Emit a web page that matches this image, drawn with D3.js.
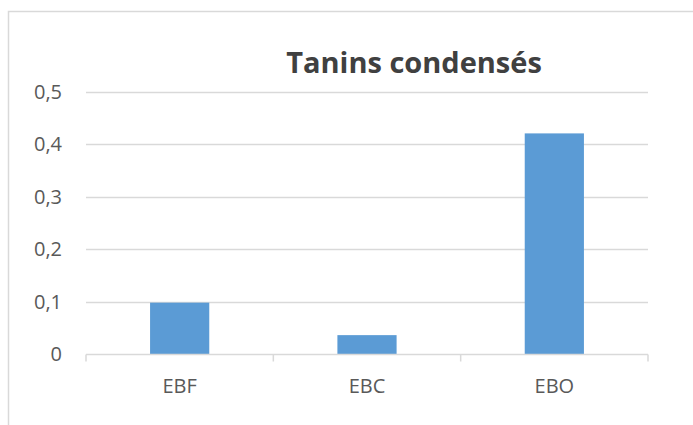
<!DOCTYPE html>
<html>
<head>
<meta charset="utf-8">
<script src="https://cdn.jsdelivr.net/npm/d3@7"></script>
<style>
  body { margin: 0; background: #fff; }
  svg { display: block; font-family: "Open Sans", sans-serif; }
</style>
</head>
<body>
<div id="chart"></div>
<script>
// data
var categories = ["EBF", "EBC", "EBO"];
var values = [0.098, 0.036, 0.421];
var yTicks = [0, 0.1, 0.2, 0.3, 0.4, 0.5];
var title = "Tanins condensés";

var width = 693, height = 425;
var plotLeft = 86, plotRight = 648, plotTop = 92, plotBottom = 354;

var svg = d3.select("#chart").append("svg")
  .attr("width", width)
  .attr("height", height);

/* chart frame, runs off the picture to the right and bottom */
svg.append("rect")
  .attr("x", 8.5).attr("y", 11.5)
  .attr("width", 800).attr("height", 600)
  .attr("fill", "#fff")
  .attr("stroke", "#d9d9d9")
  .attr("stroke-width", 1.5);

var x = d3.scaleBand()
  .domain(categories)
  .range([plotLeft, plotRight])
  .paddingInner(0.684)
  .paddingOuter(0.342);

var y = d3.scaleLinear()
  .domain([0, 0.5])
  .range([plotBottom, plotTop]);

var fmt = d => d3.format(".1~f")(d).replace(".", ",");

/* grid lines */
svg.append("g")
  .selectAll("line")
  .data(yTicks.filter(d => d > 0))
  .enter().append("line")
  .attr("x1", plotLeft).attr("x2", plotRight)
  .attr("y1", d => Math.round(y(d)) + 0.5)
  .attr("y2", d => Math.round(y(d)) + 0.5)
  .attr("stroke", "#d9d9d9")
  .attr("stroke-width", 1.3);

/* bars */
svg.append("g")
  .selectAll("rect")
  .data(values)
  .enter().append("rect")
  .attr("x", (d, i) => x(categories[i]))
  .attr("width", x.bandwidth())
  .attr("y", d => y(d))
  .attr("height", d => y(0) - y(d))
  .attr("fill", "#5b9bd5");

/* x axis: line plus ticks between categories */
var xAxis = d3.axisBottom(x).tickSize(0).tickPadding(24);
var gx = svg.append("g")
  .attr("transform", `translate(0, ${Math.round(y(0)) + 0.5})`)
  .call(xAxis);
gx.select(".domain").remove();
gx.selectAll("text")
  .attr("fill", "#595959")
  .attr("font-size", "20px")
  .attr("font-family", "'Open Sans', sans-serif");

var step = x.step();
var bounds = d3.range(categories.length + 1).map(i => plotLeft + i * step);
gx.append("line")
  .attr("x1", plotLeft).attr("x2", plotRight)
  .attr("y1", 0).attr("y2", 0)
  .attr("stroke", "#d9d9d9").attr("stroke-width", 1.5);
gx.selectAll(".sep")
  .data(bounds)
  .enter().append("line")
  .attr("class", "sep")
  .attr("x1", d => d).attr("x2", d => d)
  .attr("y1", 0).attr("y2", 7)
  .attr("stroke", "#d9d9d9").attr("stroke-width", 1.5);

/* y axis labels */
var yAxis = d3.axisLeft(y).tickValues(yTicks).tickFormat(fmt).tickSize(0).tickPadding(24);
var gy = svg.append("g")
  .attr("transform", `translate(${plotLeft}, 0)`)
  .call(yAxis);
gy.select(".domain").remove();
gy.selectAll("text")
  .attr("fill", "#595959")
  .attr("font-size", "20px")
  .attr("font-family", "'Open Sans', sans-serif");

/* title */
svg.append("text")
  .attr("x", 414)
  .attr("y", 73)
  .attr("text-anchor", "middle")
  .attr("fill", "#404040")
  .attr("font-size", "29px")
  .attr("font-weight", "bold")
  .text(title);
</script>
</body>
</html>
